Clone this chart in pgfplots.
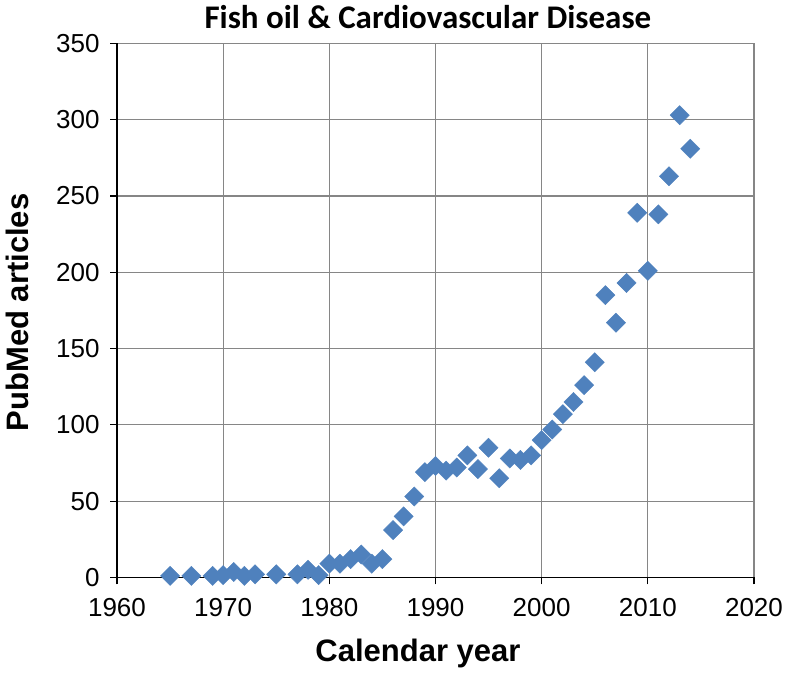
\documentclass[border=0pt]{standalone}
\usepackage{pgfplots}
\pgfplotsset{compat=1.18}
\usepackage{fontspec}
\setmainfont{Liberation Sans}
\newfontfamily\calibri{Carlito}
\definecolor{exblue}{HTML}{4F81BD}
\definecolor{gridgray}{HTML}{868686}
\begin{document}
\begin{tikzpicture}
\path[use as bounding box] (-58.5pt,-48.8pt) rectangle (334.5pt,288.7pt);
\begin{axis}[
  scale only axis,
  width=318.5pt, height=266.95pt,
  xmin=1960, xmax=2020, ymin=0, ymax=350,
  xtick={1960,1970,...,2020},
  ytick={0,50,...,350},
  axis lines=left,
  axis line style={-, black, line width=0.6pt},
  grid=major,
  major grid style={gridgray, line width=0.6pt},
  tick align=outside,
  major tick length=3.5pt,
  tick style={black, line width=0.6pt},
  /pgf/number format/assume math mode=true,
  /pgf/number format/set thousands separator={},
  tick label style={font=\fontsize{13}{15}\selectfont},
  yticklabel style={inner sep=0pt, anchor=east, xshift=-5pt},
  xticklabel style={inner sep=0pt, anchor=north, yshift=-7pt},
  every axis title shift=0pt,
  title={\calibri\bfseries Fish oil \& Cardiovascular Disease},
  title style={font=\fontsize{16.5}{19}\selectfont, anchor=base, at={(axis description cs:0.488,1.0272)}, inner sep=0pt},
  xlabel={Calendar year},
  xlabel style={font=\fontsize{15.5}{18}\selectfont\bfseries, anchor=base, at={(axis description cs:0.4725,-0.1579)}, inner sep=0pt},
  ylabel={PubMed articles},
  ylabel style={font=\fontsize{15.5}{18}\selectfont\bfseries, anchor=base, at={(axis description cs:-0.1397,0.4962)}, inner sep=0pt},
  clip=false,
]
\addplot[only marks, mark=square*, mark size=3.4pt,
  mark options={rotate=45, fill=exblue, draw=exblue, line width=0.2pt}]
coordinates {
(1965,1) (1967,1) (1969,1) (1970,1.5) (1971,3.5) (1972,1) (1973,2)
(1975,2) (1977,2) (1978,5) (1979,1.5) (1980,9) (1981,9) (1982,12)
(1983,15) (1984,9) (1985,12) (1986,31) (1987,40) (1988,53) (1989,69)
(1990,73) (1991,70) (1992,72) (1993,80) (1994,71) (1995,85) (1996,65)
(1997,78) (1998,77) (1999,80) (2000,90) (2001,97) (2002,107) (2003,115)
(2004,126) (2005,141) (2006,185) (2007,167) (2008,193) (2009,239)
(2010,201) (2011,238) (2012,263) (2013,303) (2014,281)
};
\end{axis}
\end{tikzpicture}
\end{document}
